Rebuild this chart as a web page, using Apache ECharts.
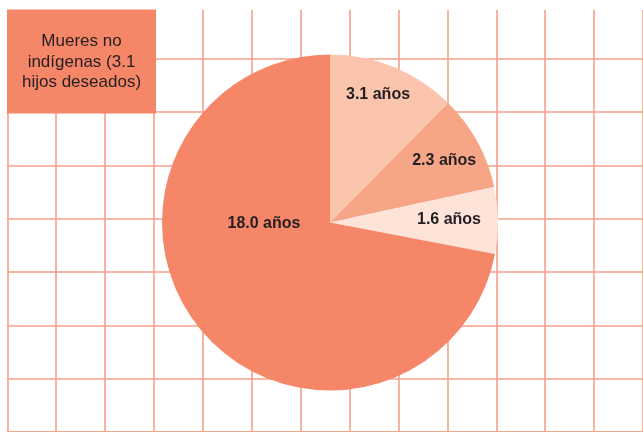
<!DOCTYPE html>
<html>
<head>
<meta charset="utf-8">
<script src="https://cdn.jsdelivr.net/npm/echarts@6/dist/echarts.min.js"></script>
<style>
html,body{margin:0;padding:0;background:#fff;}
#chart{width:643px;height:432px;}
</style>
</head>
<body>
<div id="chart"></div>
<script>
// Data
const categories = ['3.1 años', '2.3 años', '1.6 años', '18.0 años'];
const values = [3.1, 2.3, 1.6, 18.0];
const boxTitle = 'Mueres no\nindígenas (3.1\nhijos deseados)';

// Styles
const sliceColors = ['#fac4ad', '#f6a587', '#fde3d8', '#f58768'];
const labelOffsets = [[15, -47], [38, -20], [32, -2], [1, -54]];
const gridColor = '#f5a088';
const labelFont = "'Liberation Sans', Arial, sans-serif";

const chart = echarts.init(document.getElementById('chart'), null, {renderer: 'canvas'});

const pieData = values.map((v, i) => ({
  name: categories[i],
  value: v,
  itemStyle: {color: sliceColors[i]},
  label: {offset: labelOffsets[i]}
}));

const option = {
  animation: false,
  backgroundColor: '#ffffff',
  grid: [
    {left: 7.3, top: 10, width: 642.2, height: 440, containLabel: false},
    {left: 7.3, top: 5.5, width: 642.2, height: 432, containLabel: false}
  ],
  xAxis: [
    {
      gridIndex: 0, type: 'value', min: 0, max: 13, interval: 1, position: 'top',
      axisLine: {show: true, lineStyle: {color: gridColor, width: 1.6}},
      axisTick: {show: false}, axisLabel: {show: false},
      splitLine: {show: true, lineStyle: {color: gridColor, width: 1.6}}
    },
    {
      gridIndex: 1, type: 'value', min: 0, max: 13, interval: 1,
      axisLine: {show: false}, axisTick: {show: false}, axisLabel: {show: false},
      splitLine: {show: false}
    }
  ],
  yAxis: [
    {
      gridIndex: 0, type: 'value', min: 0, max: 1,
      axisLine: {show: false}, axisTick: {show: false}, axisLabel: {show: false},
      splitLine: {show: false}
    },
    {
      gridIndex: 1, type: 'value', min: 0, max: 8, interval: 1,
      axisLine: {show: false}, axisTick: {show: false}, axisLabel: {show: false},
      splitLine: {show: true, showMaxLine: false, lineStyle: {color: gridColor, width: 1.6}}
    }
  ],
  series: [
    {
      type: 'pie',
      center: [330, 222.5],
      radius: [0, 168],
      startAngle: 90,
      clockwise: true,
      avoidLabelOverlap: false,
      silent: true,
      z: 10,
      label: {
        show: true,
        position: 'inside',
        formatter: '{b}',
        color: '#231f20',
        fontFamily: labelFont,
        fontWeight: 'bold',
        fontSize: 16
      },
      labelLine: {show: false},
      itemStyle: {borderWidth: 0},
      data: pieData
    }
  ],
  graphic: [
    {
      type: 'rect',
      z: 20,
      shape: {x: 7, y: 9.5, width: 149, height: 104},
      style: {fill: '#f58768'}
    },
    {
      type: 'text',
      z: 21,
      x: 81.5,
      y: 62,
      style: {
        text: boxTitle,
        fill: '#231f20',
        font: "17px 'Liberation Sans', Arial, sans-serif",
        align: 'center',
        verticalAlign: 'middle',
        lineHeight: 20.5
      }
    }
  ]
};

chart.setOption(option);
</script>
</body>
</html>
